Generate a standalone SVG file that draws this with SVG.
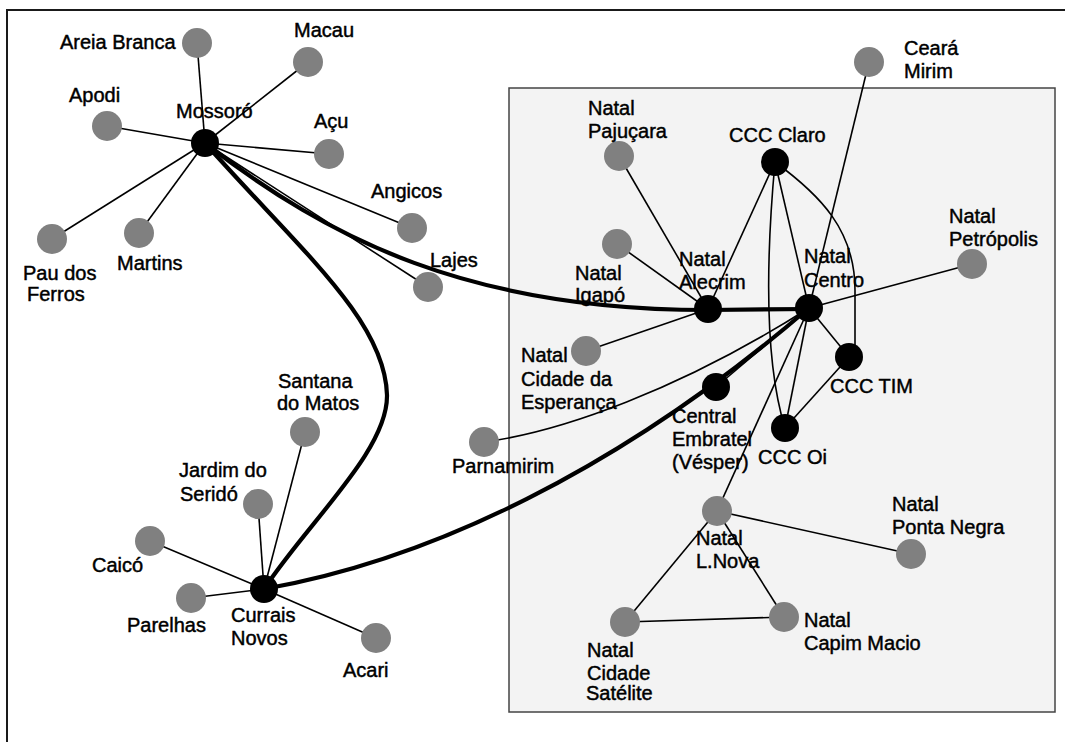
<svg xmlns="http://www.w3.org/2000/svg" width="1065" height="742" viewBox="0 0 1065 742">
<style>
.t{font-family:"Liberation Sans",Arial,sans-serif;font-size:20px;fill:#000;stroke:#000;stroke-width:0.45}
.g{fill:#808080}
.b{fill:#000}
.thin{stroke:#000;stroke-width:1.6;fill:none}
.thick{stroke:#000;stroke-width:4.2;fill:none}
</style>
<rect x="0" y="0" width="1065" height="742" fill="#fff"/>
<rect x="7" y="10" width="1080" height="760" fill="none" stroke="#1a1a1a" stroke-width="2"/>
<rect id="natal-area" x="509" y="88" width="546" height="624" fill="#f3f3f3" stroke="#444" stroke-width="1.5"/>
<g id="connectors">
<line class="thin" x1="197" y1="43" x2="205" y2="143"/>
<line class="thin" x1="308" y1="62" x2="205" y2="143"/>
<line class="thin" x1="107" y1="126" x2="205" y2="143"/>
<line class="thin" x1="329" y1="154" x2="205" y2="143"/>
<line class="thin" x1="412" y1="228" x2="205" y2="143"/>
<line class="thin" x1="428" y1="287" x2="205" y2="143"/>
<line class="thin" x1="52" y1="239" x2="205" y2="143"/>
<line class="thin" x1="139" y1="233" x2="205" y2="143"/>
<line class="thin" x1="305" y1="432" x2="264" y2="589"/>
<line class="thin" x1="258" y1="504" x2="264" y2="589"/>
<line class="thin" x1="150" y1="541" x2="264" y2="589"/>
<line class="thin" x1="191" y1="598" x2="264" y2="589"/>
<line class="thin" x1="376" y1="638" x2="264" y2="589"/>
<line class="thin" x1="619" y1="156" x2="708" y2="309"/>
<line class="thin" x1="617" y1="244" x2="708" y2="309"/>
<line class="thin" x1="586" y1="351" x2="708" y2="309"/>
<line class="thin" x1="775" y1="162" x2="708" y2="309"/>
<line class="thin" x1="775" y1="162" x2="809" y2="308"/>
<path class="thin" d="M775,162 C766,260 764,360 785,428"/>
<path class="thin" d="M775,162 C820,195 855,230 855,290 L855,345"/>
<line class="thin" x1="849" y1="357" x2="809" y2="308"/>
<line class="thin" x1="849" y1="357" x2="785" y2="428"/>
<line class="thin" x1="809" y1="308" x2="785" y2="428"/>
<line class="thin" x1="809" y1="308" x2="716" y2="387"/>
<line class="thin" x1="809" y1="308" x2="717" y2="511"/>
<line class="thin" x1="809" y1="308" x2="972" y2="264"/>
<line class="thin" x1="809" y1="308" x2="869" y2="62"/>
<path class="thin" stroke-width="2" d="M484,442 C560,432 680,390 809,308"/>
<line class="thin" x1="717" y1="511" x2="911" y2="554"/>
<line class="thin" x1="717" y1="511" x2="784" y2="617"/>
<line class="thin" x1="717" y1="511" x2="625" y2="622"/>
<line class="thin" x1="625" y1="622" x2="784" y2="617"/>
<path class="thick" d="M205,143 C300,250 385,320 387,395 C388,450 310,520 264,589"/>
<path class="thick" d="M205,143 C330,240 470,310 708,310 L809,309"/>
<path class="thick" d="M264,589 C430,560 620,470 809,308"/>
</g>
<g id="areia-branca"><circle class="g" cx="197" cy="43" r="15"/><text class="t" x="60" y="49">Areia Branca</text></g>
<g id="macau"><circle class="g" cx="308" cy="62" r="15"/><text class="t" x="294" y="37">Macau</text></g>
<g id="apodi"><circle class="g" cx="107" cy="126" r="15"/><text class="t" x="69" y="102">Apodi</text></g>
<g id="mossoro"><circle class="b" cx="205" cy="143" r="14"/><text class="t" x="176" y="118">Mossoró</text></g>
<g id="acu"><circle class="g" cx="329" cy="154" r="15"/><text class="t" x="314" y="128">Açu</text></g>
<g id="angicos"><circle class="g" cx="412" cy="228" r="15"/><text class="t" x="371" y="198">Angicos</text></g>
<g id="lajes"><circle class="g" cx="428" cy="287" r="15"/><text class="t" x="430" y="267">Lajes</text></g>
<g id="pau-dos-ferros"><circle class="g" cx="52" cy="239" r="15"/><text class="t" x="23" y="280">Pau dos</text><text class="t" x="27" y="301">Ferros</text></g>
<g id="martins"><circle class="g" cx="139" cy="233" r="15"/><text class="t" x="117" y="270">Martins</text></g>
<g id="santana"><circle class="g" cx="305" cy="432" r="15"/><text class="t" x="278" y="388">Santana</text><text class="t" x="277" y="410">do Matos</text></g>
<g id="jardim"><circle class="g" cx="258" cy="504" r="15"/><text class="t" x="179" y="477">Jardim do</text><text class="t" x="180" y="501">Seridó</text></g>
<g id="caico"><circle class="g" cx="150" cy="541" r="15"/><text class="t" x="92" y="572">Caicó</text></g>
<g id="parelhas"><circle class="g" cx="191" cy="598" r="15"/><text class="t" x="127" y="632">Parelhas</text></g>
<g id="currais-novos"><circle class="b" cx="264" cy="589" r="14"/><text class="t" x="231" y="622">Currais</text><text class="t" x="231" y="645">Novos</text></g>
<g id="acari"><circle class="g" cx="376" cy="638" r="15"/><text class="t" x="343" y="677">Acari</text></g>
<g id="parnamirim"><circle class="g" cx="484" cy="442" r="15"/><text class="t" x="452" y="473">Parnamirim</text></g>
<g id="pajucara"><circle class="g" cx="619" cy="156" r="15"/><text class="t" x="588" y="115">Natal</text><text class="t" x="588" y="138">Pajuçara</text></g>
<g id="igapo"><circle class="g" cx="617" cy="244" r="15"/><text class="t" x="575" y="280">Natal</text><text class="t" x="575" y="302">Igapó</text></g>
<g id="esperanca"><circle class="g" cx="586" cy="351" r="15"/><text class="t" x="521" y="362">Natal</text><text class="t" x="521" y="386">Cidade da</text><text class="t" x="521" y="409">Esperança</text></g>
<g id="ceara-mirim"><circle class="g" cx="869" cy="62" r="15"/><text class="t" x="904" y="55">Ceará</text><text class="t" x="904" y="78">Mirim</text></g>
<g id="petropolis"><circle class="g" cx="972" cy="264" r="15"/><text class="t" x="949" y="223">Natal</text><text class="t" x="949" y="246">Petrópolis</text></g>
<g id="ccc-claro"><circle class="b" cx="775" cy="162" r="14"/><text class="t" x="729" y="142">CCC Claro</text></g>
<g id="alecrim"><circle class="b" cx="708" cy="309" r="14"/><text class="t" x="679" y="266">Natal</text><text class="t" x="679" y="289">Alecrim</text></g>
<g id="centro"><circle class="b" cx="809" cy="308" r="14"/><text class="t" x="804" y="263">Natal</text><text class="t" x="804" y="287">Centro</text></g>
<g id="ccc-tim"><circle class="b" cx="849" cy="357" r="14"/><text class="t" x="830" y="393">CCC TIM</text></g>
<g id="ccc-oi"><circle class="b" cx="785" cy="428" r="14"/><text class="t" x="758" y="464">CCC Oi</text></g>
<g id="embratel"><circle class="b" cx="716" cy="387" r="14"/><text class="t" x="672" y="423">Central</text><text class="t" x="672" y="446">Embratel</text><text class="t" x="672" y="469">(Vésper)</text></g>
<g id="lnova"><circle class="g" cx="717" cy="511" r="15"/><text class="t" x="696" y="545">Natal</text><text class="t" x="696" y="568">L.Nova</text></g>
<g id="ponta-negra"><circle class="g" cx="911" cy="554" r="15"/><text class="t" x="892" y="511">Natal</text><text class="t" x="892" y="534">Ponta Negra</text></g>
<g id="capim-macio"><circle class="g" cx="784" cy="617" r="15"/><text class="t" x="804" y="627">Natal</text><text class="t" x="804" y="650">Capim Macio</text></g>
<g id="satelite"><circle class="g" cx="625" cy="622" r="15"/><text class="t" x="587" y="657">Natal</text><text class="t" x="587" y="680">Cidade</text><text class="t" x="586" y="700">Satélite</text></g>
</svg>
